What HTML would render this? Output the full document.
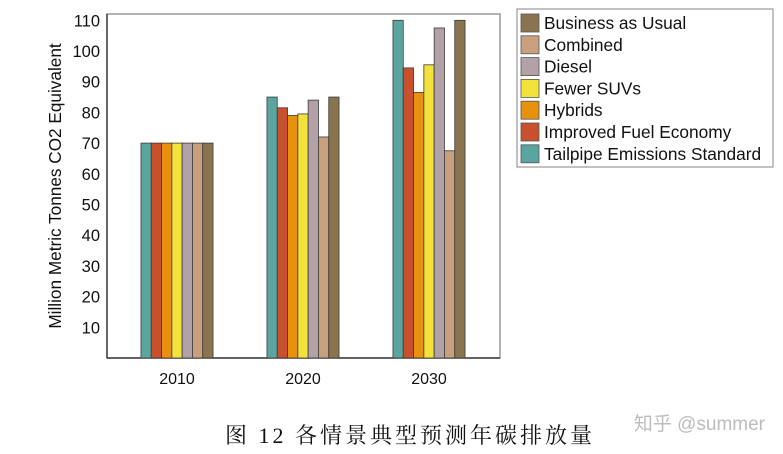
<!DOCTYPE html>
<html><head><meta charset="utf-8"><style>
body{margin:0;background:#fff;width:783px;height:454px;overflow:hidden}
svg{display:block;font-family:"Liberation Sans","DejaVu Sans",sans-serif}
</style></head><body>
<svg id="c" width="783" height="454">
<rect x="107" y="14" width="393" height="344" fill="none" stroke="#999" stroke-width="1.5"/>
<line x1="107" y1="358" x2="500" y2="358" stroke="#222" stroke-width="1.2"/>
<line x1="107" y1="14" x2="107" y2="358" stroke="#222" stroke-width="1.2"/>
<text x="0" y="0" transform="translate(61,186) rotate(-90)" text-anchor="middle" font-size="17.2" fill="#111">Million Metric Tonnes CO2 Equivalent</text>
<g id="ticks"></g><g id="bars"></g><g id="legend"></g>
<text x="410" y="443" text-anchor="middle" font-size="22" letter-spacing="3" font-family="'Liberation Serif','Noto Serif CJK SC',serif" fill="#111">图 12 各情景典型预测年碳排放量</text>
<text x="765" y="430" text-anchor="end" font-size="19" font-family="'Liberation Sans','Noto Sans CJK SC',sans-serif" fill="#bdbdbd">知乎 @summer</text>
</svg>
<script>
const categories=["2010","2020","2030"];
const series=["Tailpipe Emissions Standard","Improved Fuel Economy","Hybrids","Fewer SUVs","Diesel","Combined","Business as Usual"];
const colors=["#5aa59f","#c9502c","#e6920f","#f3e13c","#b2a1a6","#c9a07e","#8a7450"];
const tailpipe=[70,85,110];
const improved=[70,81.5,94.5];
const hybrids=[70,79,86.5];
const fewerSuvs=[70,79.5,95.5];
const diesel=[70,84,107.5];
const combined=[70,72,67.5];
const bau=[70,85,110];
const yTicks=[10,20,30,40,50,60,70,80,90,100,110];
const legendOrder=[6,5,4,3,2,1,0];
const values=[tailpipe,improved,hybrids,fewerSuvs,diesel,combined,bau];
const NS="http://www.w3.org/2000/svg";
const y=v=>358-v*3.07;
const xc=i=>177+i*126;
const bw=10.3;
function mk(t,a,p){const e=document.createElementNS(NS,t);for(const k in a)e.setAttribute(k,a[k]);p.appendChild(e);return e;}
const tg=document.getElementById('ticks');
yTicks.forEach(v=>{
 const t=mk('text',{x:100,y:y(v)+6,'text-anchor':'end','font-size':16.5,fill:'#111'},tg);t.textContent=v;
 
 
});
categories.forEach((c,i)=>{
 const t=mk('text',{x:xc(i),y:384,'text-anchor':'middle','font-size':16,fill:'#111'},tg);t.textContent=c;
 
 
});
const bg=document.getElementById('bars');
categories.forEach((c,i)=>{
 series.forEach((s,j)=>{
  const v=values[j][i];
  const x=xc(i)-bw*3.5+j*bw;
  const r=mk('rect',{x:x,y:y(v),width:bw,height:358-y(v),fill:colors[j],stroke:'#3a3a3a','stroke-width':0.8},bg);
  
  
 });
});
const lg=document.getElementById('legend');
const box=mk('rect',{x:517,y:9,width:256,height:158,fill:'#fff',stroke:'#999','stroke-width':1.2},lg);


legendOrder.forEach((j,k)=>{
 const yy=14+k*21.8;
 const g=mk('g',{},lg);
 
 
 mk('rect',{x:521,y:yy,width:18,height:18,fill:colors[j],stroke:'#555','stroke-width':0.8},g);
 const t=mk('text',{x:544,y:yy+15,'font-size':17.3,fill:'#111'},g);t.textContent=series[j];
});
</script>
</body></html>
